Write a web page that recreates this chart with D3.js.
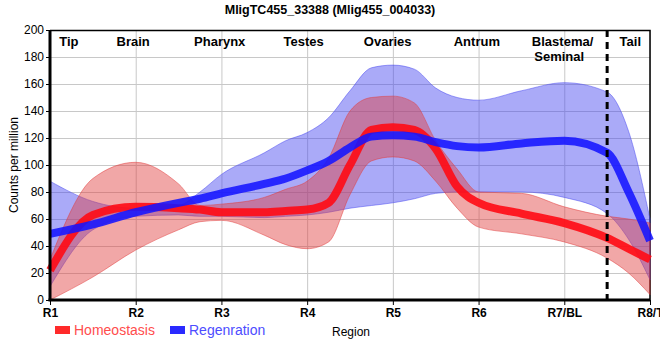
<!DOCTYPE html>
<html>
<head>
<meta charset="utf-8">
<script src="https://cdn.jsdelivr.net/npm/d3@7"></script>
<style>
body { margin: 0; background: #fff; }
svg { font-family: "Liberation Sans", Arial, sans-serif; }
.grid line { stroke: #c8c8c8; stroke-width: 1; }
.grid path { display: none; }
</style>
</head>
<body>
<div class="chart"></div>
<script>
// region ticks and sample positions (in region units)
var tickLabels = ["R1", "R2", "R3", "R4", "R5", "R6", "R7/BL", "R8/T"];
var pos = [0, 0.5, 1, 1.5, 1.75, 2, 2.5, 2.75, 3, 3.25, 3.5, 3.75, 4, 4.25, 4.5, 4.75, 5, 5.5, 6, 6.5, 6.75, 7];

// Homeostasis
var homeoMean  = [22, 63, 69, 68, 67, 65, 65, 66, 67, 72, 100, 126, 128, 126, 112, 84, 72, 64, 57, 46, 38, 30];
var homeoUpper = [30, 90, 102, 86, 70, 71, 76, 82, 88, 105, 140, 150, 151, 146, 118, 97, 80, 79, 69, 62, 60, 57];
var homeoLower = [0, 17, 37, 52, 58, 59, 48, 41, 38, 43, 78, 103, 106, 103, 88, 68, 54, 49, 43, 31, 20, 4];

// Regeneration
var regenMean  = [49, 56, 65, 72, 75, 79, 86, 90, 96, 103, 113, 121, 122, 121, 117, 114, 113, 116, 118, 109, 80, 44];
var regenUpper = [88, 73, 68, 70, 80, 93, 109, 118, 124, 135, 155, 172, 174, 171, 157, 150, 148, 155, 161, 154, 125, 60];
var regenLower = [10, 52, 62, 63, 62, 62, 61, 62, 63, 65, 68, 70, 72, 75, 79, 80, 80, 80, 76, 64, 45, 15];

var yTicks = [0, 20, 40, 60, 80, 100, 120, 140, 160, 180, 200];

var sectionNames = ["Tip", "Brain", "Pharynx", "Testes", "Ovaries", "Antrum", "Blastema/", "Tail"];
var sectionAt = [0.22, 0.97, 1.98, 2.96, 3.94, 4.98, 5.98, 6.77];
var tailBoundary = 6.5;

var svgWidth = 660;
var svgHeight = 360;
var margin = { top: 30, right: 10, bottom: 60, left: 50 };
var chartWidth = 600;
var chartHeight = 270;

var svg = d3.select(".chart")
    .append("svg")
    .attr("width", svgWidth)
    .attr("height", svgHeight);

var chart = svg.append("g")
    .attr("transform", "translate(" + margin.left + "," + margin.top + ")");

var x = d3.scaleLinear().domain([0, 7]).range([0, chartWidth]);
var y = d3.scaleLinear().domain([0, 200]).range([chartHeight, 0]);

// grid
chart.append("g")
    .attr("class", "grid")
    .call(d3.axisLeft(y).tickValues(yTicks).tickSize(-chartWidth).tickFormat(""));
chart.append("g")
    .attr("class", "grid")
    .attr("transform", "translate(0," + chartHeight + ")")
    .call(d3.axisBottom(x).tickValues(d3.range(tickLabels.length)).tickSize(-chartHeight).tickFormat(""));

// frame top/right
chart.append("path")
    .attr("d", "M0,0.5H" + chartWidth + "V" + chartHeight)
    .attr("fill", "none")
    .attr("stroke", "#000")
    .attr("stroke-width", 1.5);

var curve = d3.curveMonotoneX;

function band(upper, lower) {
    return d3.area()
        .x(function(d, i) { return x(pos[i]); })
        .y0(function(d, i) { return y(lower[i]); })
        .y1(function(d, i) { return y(upper[i]); })
        .curve(curve)(pos);
}
function line(vals) {
    return d3.line()
        .x(function(d, i) { return x(pos[i]); })
        .y(function(d) { return y(d); })
        .curve(curve)(vals);
}

chart.append("path")
    .attr("d", band(regenUpper, regenLower))
    .attr("fill", "rgba(70,70,240,0.46)")
    .attr("stroke", "rgba(70,70,240,0.5)")
    .attr("stroke-width", 1);

chart.append("path")
    .attr("d", band(homeoUpper, homeoLower))
    .attr("fill", "rgba(225,60,60,0.45)")
    .attr("stroke", "rgba(225,60,60,0.5)")
    .attr("stroke-width", 1);

chart.append("path")
    .attr("d", line(homeoMean))
    .attr("fill", "none")
    .attr("stroke", "rgba(255,10,20,0.9)")
    .attr("stroke-width", 8);

chart.append("path")
    .attr("d", line(regenMean))
    .attr("fill", "none")
    .attr("stroke", "rgba(20,20,255,0.88)")
    .attr("stroke-width", 8);

// tail boundary
chart.append("line")
    .attr("x1", x(tailBoundary)).attr("x2", x(tailBoundary))
    .attr("y1", 0).attr("y2", chartHeight + 6)
    .attr("stroke", "#000")
    .attr("stroke-width", 3)
    .attr("stroke-dasharray", "7,5");

// axes
var leftAxis = chart.append("g")
    .call(d3.axisLeft(y).tickValues(yTicks).tickSize(4).tickPadding(2));
leftAxis.select(".domain").attr("stroke-width", 3).attr("d", "M0,0V" + chartHeight);
leftAxis.selectAll("text").attr("font-size", 12).attr("fill", "#000");

var bottomAxis = chart.append("g")
    .attr("transform", "translate(0," + chartHeight + ")")
    .call(d3.axisBottom(x).tickValues(d3.range(tickLabels.length))
        .tickFormat(function(d) { return tickLabels[d]; })
        .tickSize(5).tickPadding(3));
bottomAxis.select(".domain").attr("stroke-width", 3).attr("d", "M-1.5,0H" + chartWidth);
bottomAxis.selectAll("text").attr("font-size", 12).attr("font-weight", "bold").attr("fill", "#000");

// section labels
chart.selectAll(".section")
    .data(sectionNames)
    .enter()
    .append("text")
    .attr("class", "section")
    .attr("x", function(d, i) { return x(sectionAt[i]); })
    .attr("y", 16)
    .attr("text-anchor", "middle")
    .attr("font-size", 13)
    .attr("font-weight", "bold")
    .text(function(d) { return d; });
chart.append("text")
    .attr("x", x(5.65))
    .attr("y", 31)
    .attr("font-size", 13)
    .attr("font-weight", "bold")
    .text("Seminal");

// title
svg.append("text")
    .attr("x", 330)
    .attr("y", 14)
    .attr("text-anchor", "middle")
    .attr("font-size", 12.5)
    .attr("font-weight", "bold")
    .text("MligTC455_33388 (Mlig455_004033)");

// y label
svg.append("text")
    .attr("transform", "translate(18," + (margin.top + chartHeight / 2) + ") rotate(-90)")
    .attr("text-anchor", "middle")
    .attr("font-size", 12)
    .text("Counts per million");

// legend
var legend = [
    { name: "Homeostasis", color: "#ff2a2a", text: "#ff4d4d", x: 55 },
    { name: "Regenration", color: "#2a2aff", text: "#4d4dff", x: 170 }
];
legend.forEach(function(l) {
    svg.append("rect")
        .attr("x", l.x).attr("y", 326)
        .attr("width", 15).attr("height", 8)
        .attr("fill", l.color);
    svg.append("text")
        .attr("x", l.x + 19).attr("y", 335)
        .attr("font-size", 14)
        .attr("fill", l.text)
        .text(l.name);
});
svg.append("text")
    .attr("x", 332).attr("y", 336)
    .attr("font-size", 12)
    .text("Region");
</script>
</body>
</html>
